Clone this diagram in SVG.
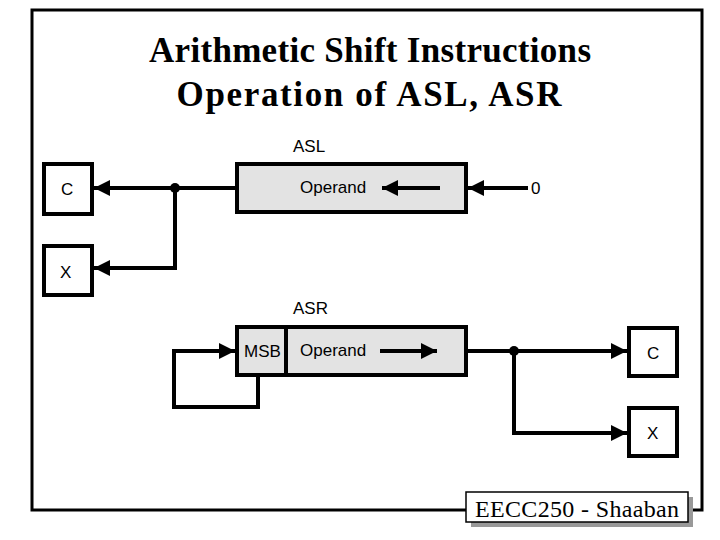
<svg xmlns="http://www.w3.org/2000/svg" width="720" height="540" viewBox="0 0 720 540">
<defs>
<style>
.t{font-family:"Liberation Serif",serif;font-weight:bold;font-size:35px;text-anchor:middle;fill:#000}
.s{font-family:"Liberation Sans",sans-serif;font-size:17px;fill:#000}
.box{fill:#fff;stroke:#000;stroke-width:4}
.reg{fill:#e3e3e3;stroke:#000;stroke-width:4}
.ln{fill:none;stroke:#000;stroke-width:4}
</style>
<marker id="ah" viewBox="0 0 10 10" refX="10" refY="5" markerWidth="4" markerHeight="4" orient="auto" markerUnits="strokeWidth"><path d="M0,0L10,5L0,10z" fill="#000"/></marker>
</defs>
<rect width="720" height="540" fill="#fff"/>
<rect x="32" y="10" width="670" height="500" fill="none" stroke="#000" stroke-width="3"/>
<text class="t" x="370" y="62" textLength="442">Arithmetic Shift Instructions</text>
<text class="t" x="369" y="106" textLength="385">Operation of  ASL,  ASR</text>
<g id="asl">
<text class="s" x="293" y="152">ASL</text>
<rect class="reg" x="237" y="164" width="229" height="48"/>
<text class="s" x="300" y="193">Operand</text>
</g>
<g id="aslC"><rect class="box" x="44" y="164" width="48" height="50"/><text class="s" x="61" y="195">C</text></g>
<g id="aslX"><rect class="box" x="44" y="246" width="48" height="49"/><text class="s" x="60" y="278">X</text></g>
<g id="zero"><text class="s" x="531" y="194">0</text></g>
<g id="asr">
<text class="s" x="293" y="314">ASR</text>
<rect class="reg" x="237" y="327" width="229" height="48"/>
<line x1="286" y1="327" x2="286" y2="375" stroke="#000" stroke-width="4"/>
<text class="s" x="244" y="357">MSB</text>
<text class="s" x="300" y="356">Operand</text>
</g>
<g id="asrC"><rect class="box" x="629" y="328" width="48" height="48"/><text class="s" x="647" y="359">C</text></g>
<g id="asrX"><rect class="box" x="629" y="408" width="48" height="48"/><text class="s" x="647" y="439">X</text></g>
<g id="connectors">
<line class="ln" x1="237" y1="188" x2="94" y2="188" marker-end="url(#ah)"/>
<polyline class="ln" points="175,188 175,268 94,268" marker-end="url(#ah)"/>
<circle cx="175" cy="188" r="5" fill="#000"/>
<line class="ln" x1="440" y1="188" x2="382" y2="188" marker-end="url(#ah)"/>
<line class="ln" x1="528" y1="188" x2="468" y2="188" marker-end="url(#ah)"/>
<line class="ln" x1="380" y1="351" x2="437" y2="351" marker-end="url(#ah)"/>
<line class="ln" x1="466" y1="351" x2="627" y2="351" marker-end="url(#ah)"/>
<polyline class="ln" points="514,351 514,433 627,433" marker-end="url(#ah)"/>
<circle cx="514" cy="351" r="5" fill="#000"/>
<polyline class="ln" points="258,375 258,407 174,407 174,351 235,351" marker-end="url(#ah)"/>
</g>
<g id="footer">
<rect x="471" y="497" width="222" height="30" fill="#999"/>
<rect x="466" y="492" width="222" height="30" fill="#fff" stroke="#000" stroke-width="1.5"/>
<text x="577" y="517" font-family="Liberation Serif,serif" font-size="24" text-anchor="middle" textLength="204">EECC250 - Shaaban</text>
</g>
</svg>
